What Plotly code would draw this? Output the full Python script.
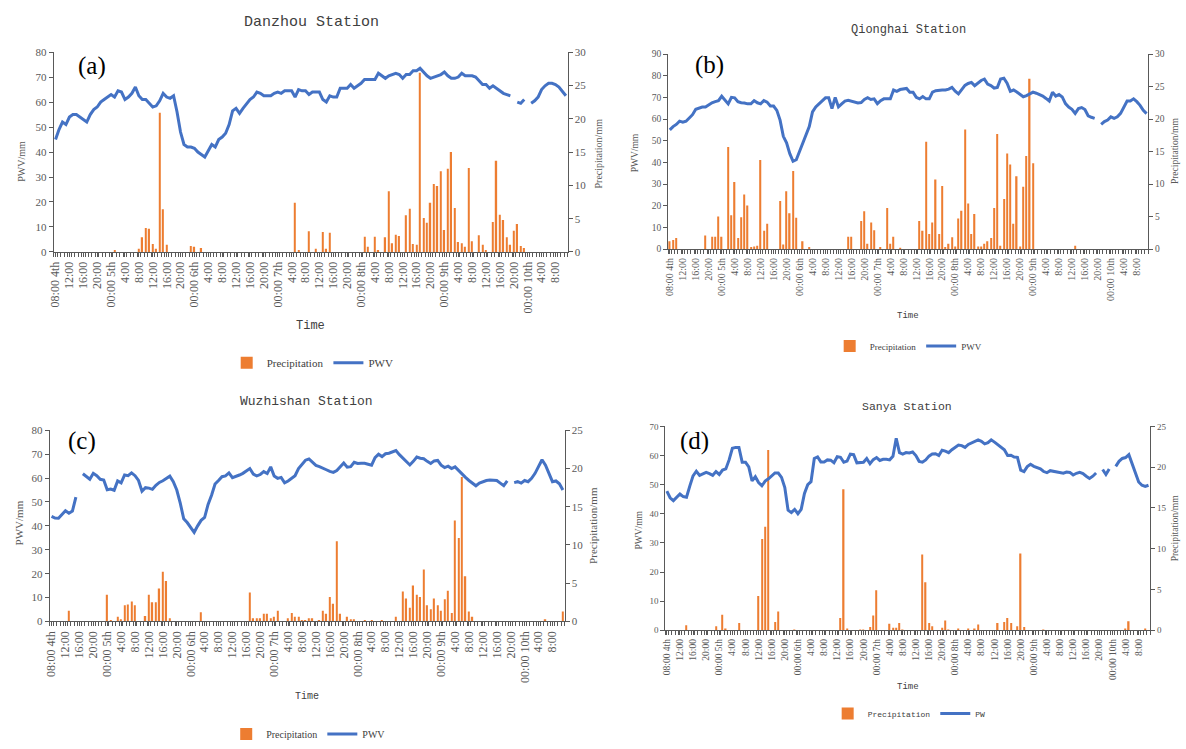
import plotly.graph_objects as go

W, H = 1186, 749
N = 148
HOURS = list(range(N))  # hourly categories starting 08:00 on the 4th

X_LABELS = ["08:00 4th", "12:00", "16:00", "20:00",
            "00:00 5th", "4:00", "8:00", "12:00", "16:00", "20:00",
            "00:00 6th", "4:00", "8:00", "12:00", "16:00", "20:00",
            "00:00 7th", "4:00", "8:00", "12:00", "16:00", "20:00",
            "00:00 8th", "4:00", "8:00", "12:00", "16:00", "20:00",
            "00:00 9th", "4:00", "8:00", "12:00", "16:00", "20:00",
            "00:00 10th", "4:00", "8:00"]
X_LABEL_POS = list(range(0, 145, 4))

# ---------------- Danzhou ----------------
PWV_A = [45, 49, 52, 51, 54, 55, 55, 54, 53, 52,
         55, 57, 58, 60, 61, 62, 63, 62, 64.5, 64,
         61, 62, 63.5, 66, 62.5, 61, 61, 59.5, 58, 58.5,
         60.5, 63.5, 62, 61.5, 62.5, 56, 48, 43, 42, 42,
         41.5, 40, 39, 38, 40.5, 43, 42, 45, 46, 47.5,
         51, 56.5, 57.5, 55.5, 57.5, 59.5, 61, 62, 64, 63.5,
         62.5, 62.5, 62.5, 63.5, 64, 63.5, 64.5, 64.5, 64.5, 62,
         65, 64.5, 64.5, 63, 64, 64, 64, 61, 60, 62.5,
         62, 62, 65.5, 65.5, 65.5, 67, 65.5, 66.5, 67.5, 69,
         69, 69, 69, 71.5, 70.5, 69.5, 70.5, 71, 71.5, 71,
         69.5, 71, 71, 72.5, 72.5, 73.5, 72, 70.5, 69.5, 70,
         70.5, 71, 72, 70.5, 69.5, 69.5, 70, 71.5, 70.5, 70.5,
         70.5, 70, 68.5, 67, 67, 65.5, 66.5, 65.5, 64.5, 63.5,
         63, 62.5, None, 60, 59.5, 61, None, 59.5, 60.5, 62,
         65, 66.5, 67.5, 67.5, 67, 66, 64, 62.5]
PRE_A = [0, 0, 0, 0, 0, 0, 0, 0, 0, 0,
         0, 0, 0, 0, 0, 0, 0, 0.3, 0, 0,
         0, 0, 0, 0, 0.5, 2.2, 3.6, 3.5, 1.2, 0.5,
         20.9, 6.4, 1.1, 0, 0, 0, 0, 0, 0, 0.9,
         0.8, 0, 0.6, 0, 0, 0, 0, 0, 0, 0,
         0, 0, 0, 0, 0, 0, 0, 0, 0, 0,
         0, 0, 0, 0, 0, 0, 0, 0, 0, 7.4,
         0.2, 0, 0, 3.1, 0, 0.5, 0, 3.0, 0.5, 2.9,
         0, 0, 0, 0, 0, 0, 0, 0, 0, 2.3,
         0.8, 0, 2.3, 0.2, 0, 2.2, 9.1, 1.3, 2.6, 2.4,
         0, 5.5, 6.5, 1.2, 1.1, 26.9, 5.1, 4.4, 7.4, 10.2,
         9.9, 12.1, 3.3, 12.5, 15.0, 6.6, 1.5, 1.3, 0.8, 12.6,
         1.6, 0, 2.5, 1.1, 0.3, 0, 4.5, 13.7, 5.6, 4.8,
         2.2, 1.1, 3.2, 4.2, 0.9, 0.6, 0, 0, 0, 0,
         0, 0, 0, 0, 0, 0, 0, 0]

# ---------------- Qionghai ----------------
PWV_B = [55, 56.5, 57.5, 59, 58.5, 59, 60.5, 62, 64.5, 65,
         65.5, 65.5, 66.5, 67.5, 68, 68.5, 70.5, 68.5, 67, 70,
         69.8, 68, 67.5, 67.4, 67, 67, 68.5, 67.5, 67, 68.5,
         67.8, 66, 66, 64, 59.5, 52, 49, 44, 40.5, 41.2,
         45.2, 49, 52.5, 56.5, 63.3, 65.6, 67, 68.5, 69.8, 69.8,
         64.8, 70, 65.6, 67, 68.3, 68.6, 68.3, 67.8, 67.4, 67.6,
         69, 69.8, 69, 69.3, 67.1, 68.5, 69.3, 69.3, 69.3, 73.4,
         72.8, 73.6, 73.9, 74.1, 72.4, 72.4, 70, 69.3, 70.4, 69.3,
         69.3, 72.4, 73.1, 73.4, 73.4, 73.4, 73.8, 74.6, 72.8, 71.6,
         73.5, 75.5, 76.4, 76.9, 75.4, 76.5, 77.8, 78.4, 76.1, 75.4,
         74.3, 74.6, 78.5, 78.8, 76.5, 72.8, 73.4, 72.5, 71.6, 70.3,
         70.8, 71.5, 72.4, 71.9, 71.3, 70.6, 69.5, 68.3, 72.4, 70.6,
         71.3, 70.2, 67.1, 65.5, 64.5, 62.6, 64.8, 65.3, 64.4, 61.5,
         60.8, 60.3, None, 57.5, 58.8, 59.5, 61, 60.3, 61, 62.6,
         65.6, 68.3, 68.3, 69.3, 68, 66.3, 64, 62.5]
PRE_B = [1.2, 1.4, 1.7, 0, 0, 0, 0, 0, 0, 0,
         0, 2.1, 0, 1.9, 1.9, 5.0, 1.9, 0, 15.7, 5.2,
         10.3, 1.7, 4.9, 8.4, 6.7, 0.3, 0.4, 0.5, 13.7, 2.8,
         3.9, 0, 0, 0, 7.4, 0.7, 8.9, 5.5, 12.0, 4.8,
         0, 1.2, 0, 0.3, 0, 0, 0, 0, 0, 0,
         0, 0, 0, 0, 0, 1.9, 1.9, 0, 0, 4.3,
         5.8, 0.8, 4.1, 2.9, 0, 0.3, 0, 6.3, 0.8, 1.9,
         0, 0.2, 0, 0, 0, 0, 0, 4.3, 2.8, 16.5,
         2.3, 4.1, 10.7, 2.3, 9.7, 0.3, 0.8, 1.8, 0.4, 4.7,
         5.9, 18.4, 7.0, 2.3, 5.4, 0.4, 0.4, 0.8, 1.2, 1.7,
         6.3, 17.7, 0.5, 7.7, 14.7, 13.0, 3.9, 11.2, 0.4, 9.6,
         14.3, 26.2, 13.2, 0, 0, 0, 0, 0, 0, 0,
         0, 0, 0, 0, 0, 0.5, 0, 0, 0, 0,
         0, 0, 0, 0, 0, 0, 0, 0, 0, 0,
         0, 0, 0, 0, 0, 0, 0, 0]

# ---------------- Wuzhishan ----------------
PWV_C = [44, 43.3, 43.2, 44.8, 46.3, 45.3, 46.2, 52, None, 61.8,
         60.6, 59.5, 62, 61, 59.5, 59.2, 55.1, 55.4, 54.9, 58.8,
         58, 61.3, 61, 62.2, 61, 59, 54.5, 56, 55.8, 55.3,
         57, 58.2, 58.9, 59.8, 60.8, 58.5, 55, 49.5, 43, 41.4,
         39.5, 37.3, 40, 42.3, 43.5, 49, 52.8, 57.5, 59, 60.6,
         60.9, 62.2, 60.2, 60.6, 61.3, 62, 63, 64, 61.7, 60.9,
         61.5, 62.7, 61.9, 64.7, 60.9, 59.9, 60.3, 58, 58.8, 60,
         61, 64, 66, 67.5, 68, 66.5, 65.3, 64.8, 64.3, 63.5,
         62.8, 62.4, 63.2, 64.7, 66.3, 64.6, 64.8, 66.6, 66.1, 66.2,
         66.2, 65.8, 65.4, 68.6, 70, 69, 70.2, 70.4, 70.9, 71.5,
         69.8, 68.3, 66.8, 65.5, 67, 68.8, 68.3, 68.1, 67, 66.1,
         67.2, 67.4, 65.4, 64.4, 65, 64, 64.7, 63.1, 61.5, 60.3,
         59, 57.9, 56.8, 57.9, 58.5, 59, 59.2, 59.2, 59, 57.9,
         56.8, 58.8, None, 58.1, 58.5, 57.9, 59, 58.5, 59.9, 62,
         64.7, 67.7, 65.4, 62, 58.5, 58.8, 57.6, 55]
PRE_C = [0, 0, 0, 0, 0, 1.4, 0, 0, 0, 0,
         0, 0, 0, 0, 0, 0, 3.5, 0.2, 0, 0.6,
         0.3, 2.1, 2.2, 2.6, 2.1, 0, 0, 0.7, 3.5, 2.5,
         2.5, 4.3, 6.5, 5.3, 0.4, 0, 0, 0, 0, 0,
         0, 0, 0, 1.2, 0, 0, 0, 0, 0, 0,
         0, 0, 0, 0, 0, 0, 0, 3.8, 0.4, 0.4,
         0.4, 1.0, 1.0, 0.4, 0.6, 1.4, 0, 0, 0.4, 1.1,
         0.6, 0.6, 0.2, 0.2, 0.4, 0.4, 0, 0.2, 1.4, 1.0,
         3.2, 2.3, 10.5, 1.0, 0, 0.6, 0.3, 0.3, 0, 0,
         0.2, 0, 0.2, 0, 0, 0.2, 0, 0, 0, 0.6,
         0, 3.9, 3.0, 1.8, 4.7, 3.5, 3.2, 6.8, 2.1, 1.6,
         3.0, 2.1, 1.4, 2.9, 4.0, 1.1, 13.2, 10.9, 18.9, 5.9,
         1.3, 0.6, 0, 0, 0, 0, 0, 0, 0, 0,
         0, 0, 0, 0, 0, 0, 0, 0, 0, 0,
         0, 0, 0.3, 0, 0, 0, 0, 1.3]

# ---------------- Sanya ----------------
PWV_D = [47.8, 45.5, 44.5, 45.5, 46.8, 45.9, 45.7, 49.5, 53, 54.6,
         53.2, 53.7, 54.2, 53.8, 53.2, 54.5, 53.5, 55, 55.4, 58.5,
         62.5, 62.8, 62.8, 57.7, 57.7, 56.1, 51.3, 52.7, 50.7, 49.6,
         51.2, 52, 53, 54, 54, 52.5, 49, 41.2, 40.4, 41.5,
         40, 41.5, 47, 50, 51, 59, 59.5, 57.8, 57.8, 58.5,
         58.4, 57.5, 59.6, 59.4, 57.7, 58.1, 60.5, 60.3, 57.5, 57.7,
         57.7, 59, 57.2, 58.6, 59.3, 58.3, 58.7, 58.7, 58.5, 59.7,
         65.9, 61, 60.5, 61, 60.9, 61.2, 60, 58, 57.7, 58.5,
         59.8, 60.5, 60.6, 60, 61.8, 61.5, 61, 62, 62.8, 63.6,
         63.4, 62.8, 63.8, 64.4, 64.9, 65.4, 64.9, 64, 64.4, 65.4,
         64.6, 63.7, 63, 62, 60, 60.1, 59.5, 59.4, 55, 54.5,
         56.2, 57, 56.3, 55.8, 55.4, 54.5, 54.1, 54.8, 54.6, 54.4,
         54, 53.9, 54.3, 54.2, 53.3, 53.9, 54.2, 53.8, 52.9, 52.1,
         52.9, 54.0, None, 55.2, 53.5, 55.4, None, 56.3, 58, 59,
         59.3, 60.3, 57, 53.5, 50.9, 49.8, 49.4, 49.8]
PRE_D = [0, 0, 0, 0, 0, 0, 0.6, 0, 0, 0,
         0, 0, 0, 0, 0, 0.5, 0, 1.9, 0.2, 0,
         0, 0, 0.9, 0, 0, 0, 0, 0, 4.2, 11.2,
         12.7, 22.1, 0, 1.0, 2.3, 0, 0, 0, 0, 0.1,
         0, 0, 0, 0, 0, 0, 0, 0, 0, 0,
         0, 0, 0, 1.5, 17.3, 0.2, 0, 0, 0, 0.1,
         0.1, 0, 0.4, 1.8, 4.9, 0, 0, 0, 0.8, 0.3,
         0.3, 0.9, 0.1, 0, 0, 0, 0, 0, 9.3, 5.9,
         0.9, 0.5, 0, 0, 0.3, 1.2, 0.1, 0, 0, 0.2,
         0, 0, 0.2, 0, 0.2, 0.7, 0, 0, 0, 0,
         0, 0.9, 0, 1.0, 1.5, 0.9, 0, 0.5, 9.4, 0.4,
         0, 0, 0, 0, 0, 0.1, 0, 0, 0, 0,
         0, 0, 0, 0, 0, 0, 0, 0, 0, 0,
         0, 0, 0, 0, 0, 0, 0, 0, 0, 0,
         0.2, 1.1, 0, 0, 0, 0, 0.2, 0]

ORANGE = "#ED7D31"
BLUE = "#4472C4"
AXIS = "#595959"
TXT = "#595959"
SERIF = "Liberation Serif"
MONO = "Liberation Mono"


def px_x(v):
    return v / W


def px_y(v):
    return 1 - v / H


panels = [
    dict(title="Danzhou Station", tag="(a)", pwv=PWV_A, pre=PRE_A, line_name="PWV",
         x0=49, x1=565, yt=47, yb=251, lmax=80, rmax=30,
         tfs=15, title_xy=(308, 17), tag_xy=(87, 61), time_xy=(307, 327), time_fs=12,
         leg_xy=(309, 364), leg_fs=11, leg_font=SERIF, tickfs=12, ytickfs=11,
         ylab_l=(17, 158), ylab_r=(597, 150), ylab_fs=10),
    dict(title="Qionghai Station", tag="(b)", pwv=PWV_B, pre=PRE_B, line_name="PWV",
         x0=666, x1=1148, yt=49, yb=248, lmax=90, rmax=30,
         tfs=12, title_xy=(907, 24), tag_xy=(707, 60), time_xy=(907, 316), time_fs=9,
         leg_xy=(907, 347), leg_fs=9, leg_font=SERIF, tickfs=10, ytickfs=9.5,
         ylab_l=(633, 150), ylab_r=(1175, 148), ylab_fs=9.5),
    dict(title="Wuzhishan Station", tag="(c)", pwv=PWV_C, pre=PRE_C, line_name="PWV",
         x0=45, x1=562, yt=433, yb=628, lmax=80, rmax=25,
         tfs=13, title_xy=(303, 404), tag_xy=(77, 444), time_xy=(303, 705), time_fs=10,
         leg_xy=(305, 743), leg_fs=10, leg_font=SERIF, tickfs=12, ytickfs=11,
         ylab_l=(15, 527), ylab_r=(591, 530), ylab_fs=11),
    dict(title="Sanya Station", tag="(d)", pwv=PWV_D, pre=PRE_D, line_name="PW",
         x0=663, x1=1150, yt=429, yb=637, lmax=70, rmax=25,
         tfs=11.5, title_xy=(906, 409), tag_xy=(692, 444), time_xy=(907, 695), time_fs=9,
         leg_xy=(908, 722), leg_fs=8, leg_font=MONO, tickfs=9.5, ytickfs=9,
         ylab_l=(637, 535), ylab_r=(1175, 533), ylab_fs=9.5),
]

fig = go.Figure()
layout = dict(width=W, height=H, margin=dict(l=0, r=0, t=0, b=0), autosize=False,
              paper_bgcolor="white", plot_bgcolor="white", showlegend=True)
annotations = []

for k, p in enumerate(panels, start=1):
    xa = "x" if k == 1 else f"x{k}"
    yb_id = 2 * k - 1
    yl_id = 2 * k
    ya_base = "y" if yb_id == 1 else f"y{yb_id}"
    ya_line = f"y{yl_id}"
    leg = "legend" if k == 1 else f"legend{k}"

    fig.add_trace(go.Bar(x=HOURS, y=p["pre"], name="Precipitation", xaxis=xa, yaxis=ya_base,
                         marker=dict(color=ORANGE, line=dict(width=0)), width=0.4,
                         legend=leg))
    fig.add_trace(go.Scatter(x=HOURS, y=p["pwv"], name=p["line_name"], mode="lines",
                             xaxis=xa, yaxis=ya_line, connectgaps=False,
                             line=dict(color=BLUE, width=3), legend=leg))

    xkey = "xaxis" if k == 1 else f"xaxis{k}"
    ybkey = "yaxis" if yb_id == 1 else f"yaxis{yb_id}"
    ylkey = f"yaxis{yl_id}"
    xtick_font = dict(family=SERIF, size=p["tickfs"], color=TXT)
    ytick_font = dict(family=SERIF, size=p["ytickfs"], color=TXT)

    layout[xkey] = dict(domain=[px_x(p["x0"]), px_x(p["x1"])], anchor=ya_base,
                        range=[-0.5, N - 0.5], showgrid=False, zeroline=False,
                        showline=True, linecolor=AXIS, linewidth=1,
                        tickmode="array", tickvals=X_LABEL_POS, ticktext=X_LABELS,
                        tickangle=-90, ticks="outside", ticklen=4, tickcolor=AXIS,
                        tickfont=xtick_font,
                        minor=dict(tickmode="linear", tick0=-0.5, dtick=1,
                                   ticks="outside", ticklen=4, tickcolor=AXIS, showgrid=False))
    layout[ybkey] = dict(domain=[px_y(p["yb"]), px_y(p["yt"])], anchor=xa, side="right",
                         range=[0, p["rmax"]], dtick=5, tick0=0, showgrid=False, zeroline=False,
                         showline=True, linecolor=AXIS, linewidth=1, ticks="outside",
                         ticklen=4, tickcolor=AXIS, tickfont=ytick_font)
    layout[ylkey] = dict(overlaying=ya_base, anchor=xa, side="left",
                         range=[0, p["lmax"]], dtick=10, tick0=0, showgrid=False, zeroline=False,
                         showline=True, linecolor=AXIS, linewidth=1, ticks="outside",
                         ticklen=4, tickcolor=AXIS, tickfont=ytick_font)
    layout[leg] = dict(x=px_x(p["leg_xy"][0]), y=px_y(p["leg_xy"][1]), xanchor="center",
                       yanchor="middle", orientation="h", bgcolor="rgba(0,0,0,0)",
                       font=dict(family=p["leg_font"], size=p["leg_fs"], color="#404040"),
                       traceorder="normal", itemwidth=30)

    annotations += [
        dict(text=p["title"], x=px_x(p["title_xy"][0]), y=px_y(p["title_xy"][1]),
             xref="paper", yref="paper", showarrow=False, xanchor="center", yanchor="middle",
             font=dict(family=MONO, size=p["tfs"], color="#404040")),
        dict(text=p["tag"], x=px_x(p["tag_xy"][0]), y=px_y(p["tag_xy"][1]),
             xref="paper", yref="paper", showarrow=False, xanchor="center", yanchor="middle",
             font=dict(family=SERIF, size=25, color="black")),
        dict(text="Time", x=px_x(p["time_xy"][0]), y=px_y(p["time_xy"][1]),
             xref="paper", yref="paper", showarrow=False, xanchor="center", yanchor="middle",
             font=dict(family=MONO, size=p["time_fs"], color="#404040")),
        dict(text="PWV/mm", x=px_x(p["ylab_l"][0]), y=px_y(p["ylab_l"][1]), textangle=-90,
             xref="paper", yref="paper", showarrow=False, xanchor="center", yanchor="middle",
             font=dict(family=SERIF, size=p["ylab_fs"], color=TXT)),
        dict(text="Precipitation/mm", x=px_x(p["ylab_r"][0]), y=px_y(p["ylab_r"][1]),
             textangle=-90, xref="paper", yref="paper", showarrow=False,
             xanchor="center", yanchor="middle",
             font=dict(family=SERIF, size=p["ylab_fs"], color=TXT)),
    ]

layout["annotations"] = annotations
fig.update_layout(**layout)
fig.write_html("out.html", config={"displayModeBar": False},
               post_script="document.body.style.margin='0';document.body.style.overflow='hidden';")
